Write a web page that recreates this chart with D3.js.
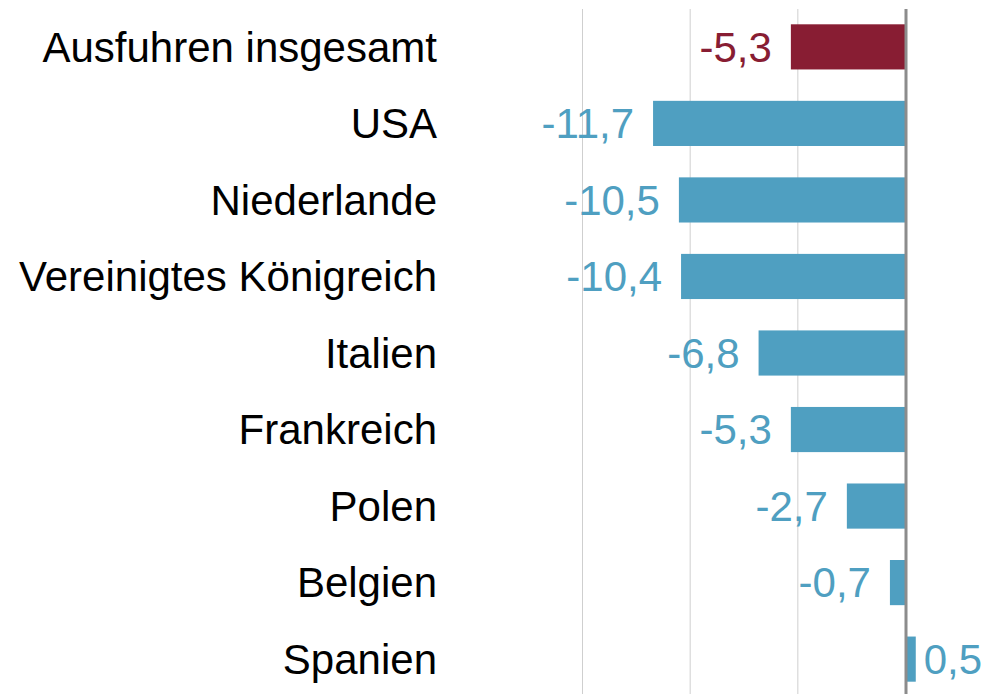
<!DOCTYPE html>
<html>
<head>
<meta charset="utf-8">
<script src="https://cdn.jsdelivr.net/npm/d3@7"></script>
<style>
  html, body { margin: 0; padding: 0; background: #fff; }
  svg { display: block; font-family: "Liberation Sans", Arial, sans-serif; }
</style>
</head>
<body>
<div id="chart"></div>
<script>
// categories and values (change vs. previous year, percent)
const categories = ["Ausfuhren insgesamt", "USA", "Niederlande", "Vereinigtes Königreich",
  "Italien", "Frankreich", "Polen", "Belgien", "Spanien"];
const values = [-5.3, -11.7, -10.5, -10.4, -6.8, -5.3, -2.7, -0.7, 0.5];
const gridTicks = [-15, -10, -5];

const w = 986, h = 694;
const red = "#881d33", blue = "#4f9fc1";

const svg = d3.select("#chart").append("svg")
  .attr("width", w)
  .attr("height", h);

/** x scale: -15 .. 0 mapped onto the plot, extends right for positives */
const x = d3.scaleLinear().domain([-15, 0]).range([582, 905]);

/** y scale: one band per category */
const y = d3.scaleBand()
  .domain(categories)
  .range([9, 697])
  .paddingInner(0.41)
  .paddingOuter(0.2);

// gridlines
svg.append("g")
  .selectAll("line")
  .data(gridTicks)
  .join("line")
  .attr("x1", d => x(d) + 0.5)
  .attr("x2", d => x(d) + 0.5)
  .attr("y1", 9)
  .attr("y2", h)
  .attr("stroke", "#cfcfcf")
  .attr("stroke-width", 1);

// bars
svg.append("g")
  .selectAll("rect")
  .data(values)
  .join("rect")
  .attr("x", d => x(Math.min(0, d)))
  .attr("width", d => Math.abs(x(d) - x(0)))
  .attr("y", (d, i) => y(categories[i]))
  .attr("height", y.bandwidth())
  .attr("fill", (d, i) => i === 0 ? red : blue);

// zero line
svg.append("line")
  .attr("x1", x(0) + 1)
  .attr("x2", x(0) + 1)
  .attr("y1", 9)
  .attr("y2", h)
  .attr("stroke", "#8c8c8c")
  .attr("stroke-width", 3);

// category labels
svg.append("g")
  .selectAll("text")
  .data(categories)
  .join("text")
  .attr("x", 437)
  .attr("y", d => y(d) + y.bandwidth() / 2)
  .attr("dy", "0.35em")
  .attr("text-anchor", "end")
  .attr("font-size", 42)
  .attr("fill", "#000")
  .text(d => d);

// value labels
const fmt = v => d3.format(".1f")(v).replace(".", ",").replace("−", "-");
svg.append("g")
  .selectAll("text")
  .data(values)
  .join("text")
  .attr("x", d => d < 0 ? x(d) - 19 : x(d) + 8)
  .attr("y", (d, i) => y(categories[i]) + y.bandwidth() / 2)
  .attr("dy", "0.35em")
  .attr("text-anchor", d => d < 0 ? "end" : "start")
  .attr("font-size", 42)
  .attr("fill", (d, i) => i === 0 ? red : blue)
  .text(d => fmt(d));
</script>
</body>
</html>
